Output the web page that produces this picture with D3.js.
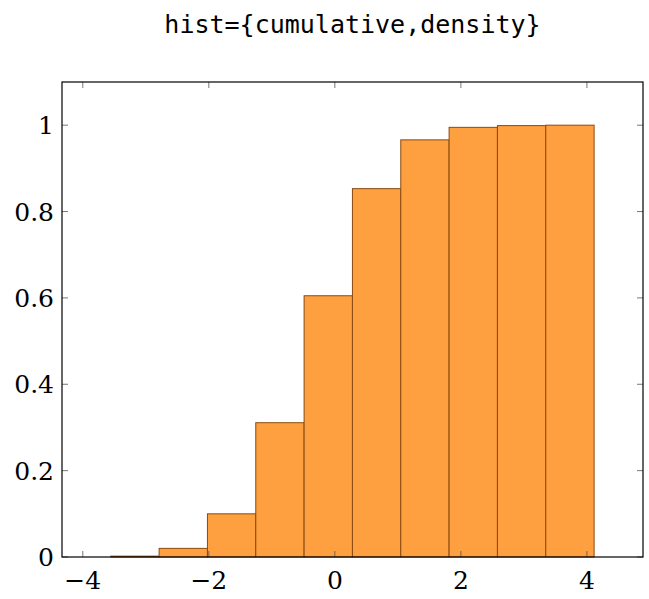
<!DOCTYPE html>
<html>
<head>
<meta charset="utf-8">
<script src="https://cdn.jsdelivr.net/npm/d3@7"></script>
<style>
  body { margin: 0; background: white; }
  text { font-family: "DejaVu Serif", "Liberation Serif", serif; }
</style>
</head>
<body>
<script>
// bin edges and cumulative density values
const binStart = -3.556;
const binWidth = 0.767;
const cumValues = [0.002, 0.02, 0.1, 0.311, 0.605, 0.853, 0.966, 0.995, 0.999, 1.0];
const xTicks = [-4, -2, 0, 2, 4];
const yTicks = [0, 0.2, 0.4, 0.6, 0.8, 1];

const width = 649, height = 599;
const margin = { left: 62, right: 6, top: 82, bottom: 42 };

const svg = d3.select("body").append("svg")
    .attr("width", width)
    .attr("height", height);

const x = d3.scaleLinear().domain([-4.33, 4.89]).range([margin.left, width - margin.right]);
const y = d3.scaleLinear().domain([0, 1.1]).range([height - margin.bottom, margin.top]);

// 标题
svg.append("text")
    .attr("x", (margin.left + width - margin.right) / 2)
    .attr("y", 33)
    .attr("text-anchor", "middle")
    .style("font-family", "'DejaVu Sans Mono', 'Liberation Mono', monospace")
    .attr("font-size", 25)
    .text("hist={cumulative,density}");

// bars
const bins = cumValues.map((v, i) => ({ x0: binStart + i * binWidth, x1: binStart + (i + 1) * binWidth, v }));
svg.append("g").selectAll("rect")
    .data(bins)
    .enter().append("rect")
    .attr("x", d => x(d.x0))
    .attr("width", d => x(d.x1) - x(d.x0))
    .attr("y", d => y(d.v))
    .attr("height", d => y(0) - y(d.v))
    .attr("fill", "#ffa040")
    .attr("stroke", "#8a4a10")
    .attr("stroke-width", 1);

const x0 = margin.left, x1 = width - margin.right;
const y0 = height - margin.bottom, y1 = margin.top;
const tl = 6;

// ticks (inside, on both sides)
const tg = svg.append("g").attr("stroke", "#555").attr("stroke-width", 0.8);
xTicks.forEach(t => {
    tg.append("line").attr("x1", x(t)).attr("x2", x(t)).attr("y1", y0).attr("y2", y0 - tl);
    tg.append("line").attr("x1", x(t)).attr("x2", x(t)).attr("y1", y1).attr("y2", y1 + tl);
});
yTicks.forEach(t => {
    tg.append("line").attr("x1", x0).attr("x2", x0 + tl).attr("y1", y(t)).attr("y2", y(t));
    tg.append("line").attr("x1", x1).attr("x2", x1 - tl).attr("y1", y(t)).attr("y2", y(t));
});

// frame
svg.append("rect")
    .attr("x", x0).attr("y", y1)
    .attr("width", x1 - x0).attr("height", y0 - y1)
    .attr("fill", "none").attr("stroke", "black").attr("stroke-width", 1.2);

// tick labels
const fmt = v => v < 0 ? "\u2212" + Math.abs(v) : String(v);
svg.append("g").selectAll("text")
    .data(xTicks)
    .enter().append("text")
    .attr("x", d => x(d))
    .attr("y", y0 + 32)
    .attr("text-anchor", "middle")
    .attr("font-size", 25)
    .text(fmt);

svg.append("g").selectAll("text")
    .data(yTicks)
    .enter().append("text")
    .attr("x", x0 - 8)
    .attr("y", d => y(d) + 9)
    .attr("text-anchor", "end")
    .attr("font-size", 25)
    .text(d => String(d));
</script>
</body>
</html>
